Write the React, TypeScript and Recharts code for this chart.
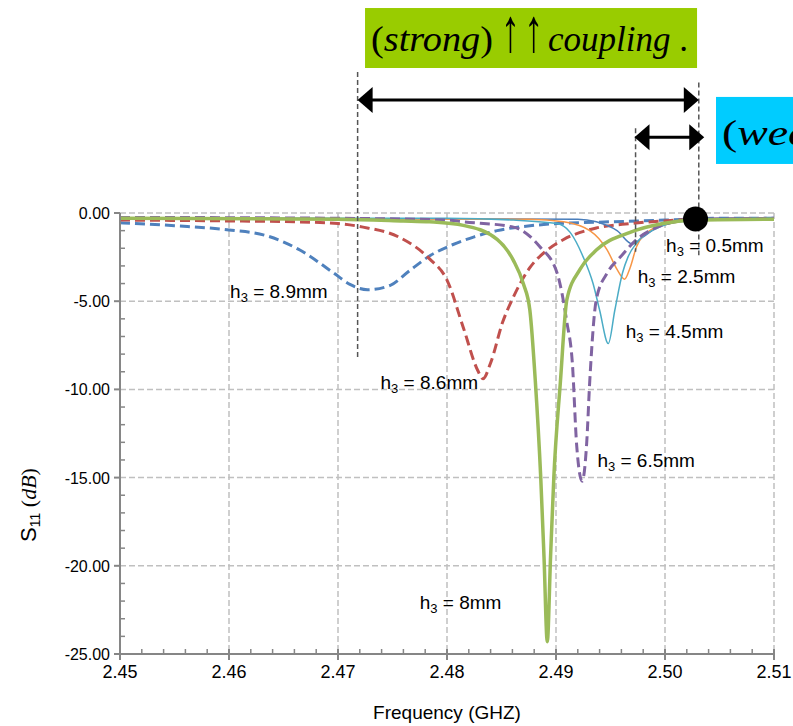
import React from 'react';
import {
  LineChart,
  Line,
  XAxis,
  YAxis,
  CartesianGrid,
  ReferenceLine,
  ReferenceDot,
  ReferenceArea,
} from 'recharts';

// ---------- axis ticks ----------
const X_MAJOR = [2.45, 2.46, 2.47, 2.48, 2.49, 2.5, 2.51];
const X_LABELS = ['2.45', '2.46', '2.47', '2.48', '2.49', '2.50', '2.51'];
const Y_MAJOR = [0, -5, -10, -15, -20, -25];
const Y_LABELS = ['0.00', '-5.00', '-10.00', '-15.00', '-20.00', '-25.00'];
const X_MINOR: number[] = [];
for (let i = 0; i <= 30; i++) X_MINOR.push(Math.round((2.45 + i * 0.002) * 1000) / 1000);
const Y_MINOR: number[] = [];
for (let i = -25; i <= 0; i++) Y_MINOR.push(i);

// ---------- series data (frequency GHz, S11 dB) ----------
const f_89 = [2.45, 2.455, 2.46, 2.4635, 2.4665, 2.4696, 2.4711, 2.4727, 2.4748, 2.4765, 2.4785, 2.4805, 2.4825, 2.4846, 2.488, 2.4901, 2.495, 2.4975, 2.5, 2.505, 2.51];
const s_89 = [-0.55, -0.72, -0.96, -1.3, -2.1, -3.4, -4.05, -4.35, -4.1, -3.3, -2.4, -1.8, -1.35, -1.0, -0.7, -0.6, -0.5, -0.45, -0.4, -0.3, -0.3];

const f_86 = [2.45, 2.46, 2.466, 2.47, 2.4723, 2.4757, 2.4784, 2.48, 2.4815, 2.4828, 2.4833, 2.484, 2.4851, 2.4861, 2.4876, 2.4892, 2.4907, 2.4937, 2.4968, 2.4998, 2.505, 2.51];
const s_86 = [-0.4, -0.45, -0.5, -0.6, -0.8, -1.4, -2.6, -3.8, -6.5, -8.9, -9.4, -8.5, -6.2, -4.75, -3.1, -2.1, -1.5, -0.85, -0.6, -0.45, -0.35, -0.35];

const f_80 = [2.45, 2.47, 2.476, 2.4784, 2.4815, 2.4846, 2.4861, 2.487, 2.4876, 2.4881, 2.4886, 2.4889, 2.4892, 2.4895, 2.4898, 2.4904, 2.491, 2.4922, 2.4937, 2.4968, 2.4998, 2.503, 2.51];
const s_80 = [-0.3, -0.35, -0.45, -0.5, -0.7, -1.5, -2.7, -4.0, -5.5, -9.5, -15.0, -19.5, -24.3, -19.5, -15.0, -9.6, -4.9, -3.2, -2.1, -1.1, -0.6, -0.4, -0.35];

const f_65 = [2.45, 2.47, 2.48, 2.4815, 2.4861, 2.4885, 2.4901, 2.491, 2.4915, 2.4919, 2.4924, 2.4928, 2.4931, 2.4937, 2.4947, 2.4959, 2.4974, 2.4993, 2.502, 2.51];
const s_65 = [-0.25, -0.3, -0.4, -0.5, -0.8, -1.9, -3.4, -6.2, -8.5, -13.2, -15.2, -13.2, -9.5, -4.9, -3.4, -2.5, -1.5, -0.8, -0.4, -0.3];

const f_45 = [2.45, 2.48, 2.4861, 2.4901, 2.4913, 2.4925, 2.4934, 2.494, 2.4948, 2.4954, 2.4961, 2.4966, 2.4974, 2.4993, 2.5014, 2.505, 2.51];
const s_45 = [-0.3, -0.3, -0.4, -0.6, -1.1, -2.5, -4.0, -5.5, -7.4, -5.5, -3.4, -2.5, -1.7, -0.85, -0.5, -0.35, -0.3];

const f_25 = [2.45, 2.4876, 2.4907, 2.4931, 2.4947, 2.4956, 2.4963, 2.4968, 2.4974, 2.4986, 2.5005, 2.503, 2.51];
const s_25 = [-0.3, -0.35, -0.5, -1.0, -2.1, -3.2, -3.75, -3.1, -1.9, -1.0, -0.6, -0.4, -0.35];

const f_05 = [2.45, 2.492, 2.4937, 2.4956, 2.497, 2.498, 2.4993, 2.5014, 2.505, 2.51];
const s_05 = [-0.3, -0.35, -0.5, -1.0, -1.75, -1.35, -0.8, -0.45, -0.3, -0.3];

const toPoints = (fs: number[], vs: number[]) => fs.map((f, i) => ({ f, v: vs[i] }));

const SERIES = [
  { name: 'h3=8.9mm', data: toPoints(f_89, s_89), color: '#4F81BD', width: 3, dash: '10 5' },
  { name: 'h3=8.6mm', data: toPoints(f_86, s_86), color: '#C0504D', width: 3, dash: '10 5' },
  { name: 'h3=0.5mm', data: toPoints(f_05, s_05), color: '#4A7EBB', width: 1.5, dash: undefined },
  { name: 'h3=2.5mm', data: toPoints(f_25, s_25), color: '#F79646', width: 1.5, dash: undefined },
  { name: 'h3=4.5mm', data: toPoints(f_45, s_45), color: '#4BACC6', width: 1.5, dash: undefined },
  { name: 'h3=6.5mm', data: toPoints(f_65, s_65), color: '#8064A2', width: 3, dash: '10 5' },
  { name: 'h3=8mm', data: toPoints(f_80, s_80), color: '#9BBB59', width: 3.5, dash: undefined },
];

// ---------- annotations (in data coordinates) ----------
const CURVE_LABELS = [
  { text: '8.9mm', f: 2.4601, v: -4.82 },
  { text: '8.6mm', f: 2.4739, v: -9.98 },
  { text: '0.5mm', f: 2.5001, v: -2.21 },
  { text: '2.5mm', f: 2.4975, v: -3.97 },
  { text: '4.5mm', f: 2.4964, v: -7.09 },
  { text: '6.5mm', f: 2.4938, v: -14.4 },
  { text: '8mm', f: 2.4775, v: -22.45 },
];
const F_STRONG = 2.4718;
const F_WEAK = 2.4973;
const F_REF = 2.5031;
const GUIDES = [
  { f: F_STRONG, top: 8.0, bottom: -8.3 },
  { f: F_REF, top: 7.4, bottom: -2.4 },
  { f: F_WEAK, top: 4.8, bottom: -2.2 },
];
const ARROWS = [
  { from: F_STRONG, to: F_REF, v: 6.4 },
  { from: 2.4972, to: 2.5036, v: 4.3 },
];
const BOXES = [
  { f1: 2.47248, f2: 2.50294, v1: 11.62, v2: 8.22, fill: '#99CC00', word: 'strong' },
  { f1: 2.50468, f2: 2.535, v1: 6.58, v2: 2.78, fill: '#00CCFF', word: 'week' },
];
const DOT = { f: 2.5028, v: -0.34 };

const AXIS = '#868686';
const SANS = "'Liberation Sans', Arial, sans-serif";
const SERIF = "'Liberation Serif', 'Times New Roman', serif";

const isMajorX = (v: number) => X_MAJOR.findIndex((m) => Math.abs(m - v) < 1e-6);
const isMajorY = (v: number) => Y_MAJOR.findIndex((m) => Math.abs(m - v) < 1e-6);

const XTick = (props: any) => {
  const { x, y, payload } = props;
  const idx = isMajorX(payload.value);
  if (idx < 0) {
    return <line x1={x} y1={y} x2={x} y2={y - 5} stroke={AXIS} strokeWidth={1.5} />;
  }
  return (
    <g>
      <line x1={x} y1={y - 5} x2={x} y2={y + 6} stroke={AXIS} strokeWidth={2} />
      <text x={x} y={y + 24} textAnchor="middle" fontFamily={SANS} fontSize={18} fill="#000">
        {X_LABELS[idx]}
      </text>
    </g>
  );
};

const YTick = (props: any) => {
  const { x, y, payload } = props;
  const idx = isMajorY(payload.value);
  if (idx < 0) {
    return <line x1={x} y1={y} x2={x + 5} y2={y} stroke={AXIS} strokeWidth={1.5} />;
  }
  return (
    <g>
      <line x1={x - 6} y1={y} x2={x} y2={y} stroke={AXIS} strokeWidth={2} />
      <text x={x - 10} y={y + 6} textAnchor="end" fontFamily={SANS} fontSize={16} fill="#000">
        {Y_LABELS[idx]}
      </text>
    </g>
  );
};

const DoubleArrow = (p: any) => {
  const { x1, y1, x2, y2 } = p;
  const hl = 15;
  const hw = 13;
  return (
    <g>
      <line x1={x1 + hl - 2} y1={y1} x2={x2 - hl + 2} y2={y2} stroke="#000" strokeWidth={3} />
      <polygon points={`${x1},${y1} ${x1 + hl},${y1 - hw} ${x1 + hl},${y1 + hw}`} fill="#000" />
      <polygon points={`${x2},${y2} ${x2 - hl},${y2 - hw} ${x2 - hl},${y2 + hw}`} fill="#000" />
    </g>
  );
};

const makeBox = (fill: string, word: string) => (p: any) => {
  const { x, y, width, height } = p;
  const base = y + height * 0.72;
  return (
    <g>
      <rect x={x} y={y} width={width} height={height} fill={fill} />
      <text
        x={x + 6}
        y={base}
        fontFamily={SERIF}
        fontSize={36}
        fill="#000"
        textLength={122}
        lengthAdjust="spacingAndGlyphs"
      >
        (<tspan fontStyle="italic">{word}</tspan>)
      </text>
      <text
        transform={`translate(${x + 136}, ${base}) scale(1.05, 1.7)`}
        fontFamily={SERIF}
        fontSize={36}
        fill="#000"
        letterSpacing={4}
      >
        ↑↑
      </text>
      <text
        x={x + 183}
        y={base}
        fontFamily={SERIF}
        fontSize={36}
        fill="#000"
        textLength={140}
        lengthAdjust="spacingAndGlyphs"
        style={{ whiteSpace: 'pre' }}
      >
        <tspan fontStyle="italic">coupling</tspan> .
      </text>
    </g>
  );
};

const makeLabel = (text: string) => (p: any) => (
  <text x={p.cx} y={p.cy} fontFamily={SANS} fontSize={19} fill="#000" style={{ whiteSpace: 'pre' }}>
    h<tspan fontSize={13} dy={4}>3</tspan>
    <tspan dy={-4}>{' = ' + text}</tspan>
  </text>
);

const XTitle = (p: any) => {
  const vb = p.viewBox || { x: 120, y: 654, width: 654, height: 72 };
  return (
    <text x={vb.x + vb.width / 2} y={vb.y + 65} textAnchor="middle" fontFamily={SANS} fontSize={19} fill="#000">
      Frequency (GHZ)
    </text>
  );
};

const YTitle = (p: any) => {
  const vb = p.viewBox || { x: 0, y: 213, width: 120, height: 441 };
  const cx = vb.x + 36;
  const cy = vb.y + 292;
  return (
    <text
      x={cx}
      y={cy}
      transform={`rotate(-90, ${cx}, ${cy})`}
      textAnchor="middle"
      fontFamily={SANS}
      fontSize={22}
      fill="#000"
      style={{ whiteSpace: 'pre' }}
    >
      S<tspan fontSize={14} dy={4}>11</tspan>
      <tspan dy={-4} fontFamily={SERIF}> (</tspan>
      <tspan fontFamily={SERIF} fontStyle="italic">dB</tspan>
      <tspan fontFamily={SERIF}>)</tspan>
    </text>
  );
};

export default function App() {
  return (
    <div style={{ position: 'absolute', left: 0, top: 0, width: 793, height: 726, background: '#fff' }}>
      <LineChart width={793} height={726} margin={{ top: 213, right: 19, bottom: 0, left: 0 }}>
        <CartesianGrid
          stroke="#C0C0C0"
          strokeDasharray="6 3"
          strokeWidth={1.5}
          horizontalValues={Y_MAJOR}
          verticalValues={X_MAJOR}
        />
        <XAxis
          type="number"
          dataKey="f"
          domain={[2.45, 2.51]}
          allowDataOverflow
          ticks={X_MINOR}
          interval={0}
          height={72}
          tickSize={0}
          tickMargin={0}
          tickLine={false}
          tick={<XTick />}
          axisLine={{ stroke: AXIS, strokeWidth: 2 }}
          label={<XTitle />}
        />
        <YAxis
          type="number"
          dataKey="v"
          domain={[-25, 0]}
          allowDataOverflow
          ticks={Y_MINOR}
          interval={0}
          width={120}
          tickSize={0}
          tickMargin={0}
          tickLine={false}
          tick={<YTick />}
          axisLine={{ stroke: AXIS, strokeWidth: 2 }}
          label={<YTitle />}
        />
        {SERIES.map((s) => (
          <Line
            key={s.name}
            data={s.data}
            dataKey="v"
            type="monotone"
            stroke={s.color}
            strokeWidth={s.width}
            strokeDasharray={s.dash}
            dot={false}
            activeDot={false}
            isAnimationActive={false}
          />
        ))}
        {GUIDES.map((g, i) => (
          <ReferenceLine
            key={'g' + i}
            segment={[
              { x: g.f, y: g.top },
              { x: g.f, y: g.bottom },
            ]}
            ifOverflow="visible"
            stroke="#555555"
            strokeWidth={1.5}
            strokeDasharray="5 3"
          />
        ))}
        {ARROWS.map((a, i) => (
          <ReferenceLine
            key={'a' + i}
            segment={[
              { x: a.from, y: a.v },
              { x: a.to, y: a.v },
            ]}
            ifOverflow="visible"
            shape={DoubleArrow}
          />
        ))}
        {BOXES.map((b, i) => (
          <ReferenceArea
            key={'b' + i}
            x1={b.f1}
            x2={b.f2}
            y1={b.v1}
            y2={b.v2}
            ifOverflow="visible"
            shape={makeBox(b.fill, b.word)}
          />
        ))}
        {CURVE_LABELS.map((l, i) => (
          <ReferenceDot key={'l' + i} x={l.f} y={l.v} r={0} ifOverflow="visible" shape={makeLabel(l.text)} />
        ))}
        <ReferenceDot x={DOT.f} y={DOT.v} r={12.5} fill="#000" stroke="none" ifOverflow="visible" />
      </LineChart>
    </div>
  );
}
